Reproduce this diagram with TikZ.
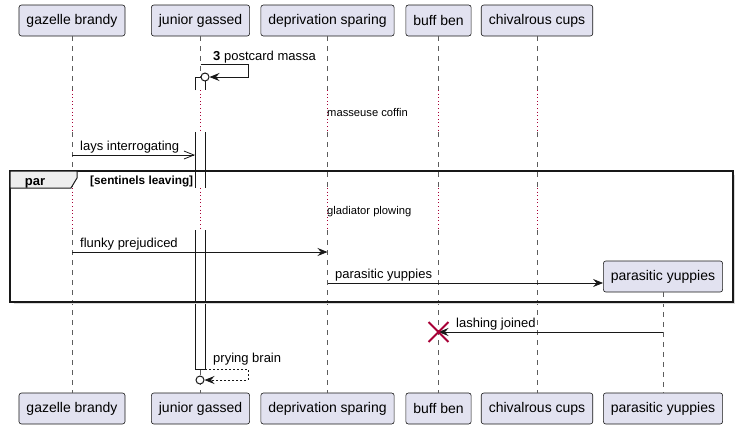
\documentclass[tikz,border=0pt]{standalone}
\usepackage{fontspec}
\setmainfont{Liberation Sans}
\usetikzlibrary{arrows.meta, positioning, calc, shapes.misc}
\definecolor{cBox}{RGB}{226,226,240}
\definecolor{cLine}{RGB}{24,24,24}
\definecolor{cDelay}{RGB}{168,0,54}
\definecolor{cTab}{RGB}{238,238,238}
\tikzset{
	actorbox/.style={rectangle, rounded corners=2.5pt, draw=cLine, fill=cBox, line width=0.6pt, minimum height=31pt, inner xsep=7.5pt, font=\fontsize{14}{16}\selectfont},
	lifeline/.style={cLine!70, line width=0.6pt, dash pattern=on 5pt off 5pt},
	delayline/.style={cDelay, line width=0.9pt, dash pattern=on 1pt off 2.6pt},
	actbar/.style={draw=cLine, fill=white, line width=0.8pt},
	% message arrows
	sig/.style={-{Stealth[length=10pt, width=8pt, inset=3.5pt]}, cLine, line width=0.8pt},
	asig/.style={-{Straight Barb[length=10pt, width=8pt]}, cLine, line width=0.8pt},
	retsig/.style={sig, dash pattern=on 2pt off 2pt},
	endcirc/.style={circle, draw=cLine, fill=white, line width=1pt, minimum size=8pt, inner sep=0pt},
	kill/.style={cross out, draw=cDelay, line width=1.8pt, minimum size=18pt, inner sep=0pt},
	msgtext/.style={anchor=base west, inner sep=0pt, font=\fontsize{13}{15}\selectfont},
	delaytext/.style={anchor=base west, inner sep=0pt, font=\fontsize{11.2}{13}\selectfont},
}
\begin{document}
\begin{tikzpicture}[x=1pt, y=-1pt]
	\useasboundingbox (0,0) rectangle (738,429);
	\node[actorbox] (gb) at (72,20.5)    {gazelle brandy};
	\node[actorbox] (jg) at (200.5,20.5) {junior gassed};
	\node[actorbox] (ds) at (327.5,20.5) {deprivation sparing};
	\node[actorbox] (bb) at (438.5,20.5) {buff ben};
	\node[actorbox] (cc) at (537,20.5)   {chivalrous cups};
	\node[actorbox] (py) at (663,276.5)  {parasitic yuppies};
	\node[actorbox] (gbE) at (72,408.5)    {gazelle brandy};
	\node[actorbox] (jgE) at (200.5,408.5) {junior gassed};
	\node[actorbox] (dsE) at (327.5,408.5) {deprivation sparing};
	\node[actorbox] (bbE) at (438.5,408.5) {buff ben};
	\node[actorbox] (ccE) at (537,408.5)   {chivalrous cups};
	\node[actorbox] (pyE) at (663,408.5)   {parasitic yuppies};
	\coordinate (d1a) at (0,90);
	\coordinate (d1b) at (0,132);
	\coordinate (d2a) at (0,188);
	\coordinate (d2b) at (0,230);
	\draw[lifeline] (gb) -- (gb |- d1a) (gb |- d1b) -- (gb |- d2a) (gb |- d2b) -- (gbE);
	\draw[lifeline] (jg) -- (jg |- d1a) (jg |- d1b) -- (jg |- d2a) (jg |- d2b) -- (jgE);
	\draw[lifeline] (ds) -- (ds |- d1a) (ds |- d1b) -- (ds |- d2a) (ds |- d2b) -- (dsE);
	\draw[lifeline] (bb) -- (bb |- d1a) (bb |- d1b) -- (bb |- d2a) (bb |- d2b) -- (bbE);
	\draw[lifeline] (cc) -- (cc |- d1a) (cc |- d1b) -- (cc |- d2a) (cc |- d2b) -- (ccE);
	\draw[lifeline] (py) -- (pyE);
	\draw[delayline] (gb |- d1a) -- (gb |- d1b) (gb |- d2a) -- (gb |- d2b);
	\draw[delayline] (jg |- d1a) -- (jg |- d1b) (jg |- d2a) -- (jg |- d2b);
	\draw[delayline] (ds |- d1a) -- (ds |- d1b) (ds |- d2a) -- (ds |- d2b);
	\draw[delayline] (bb |- d1a) -- (bb |- d1b) (bb |- d2a) -- (bb |- d2b);
	\draw[delayline] (cc |- d1a) -- (cc |- d1b) (cc |- d2a) -- (cc |- d2b);
	% activation of junior gassed
	\filldraw[actbar] (195,90) -- (195,77) -- (205,77) -- (205,90);
	\fill[white] (195,132) rectangle (205,188);
	\draw[actbar] (195,132) -- (195,188) (205,132) -- (205,188);
	\fill[white] (195,230) rectangle (205,369);
	\draw[actbar] (195,230) -- (195,369) -- (205,369) -- (205,230);
	\coordinate (r1) at (0,64);
	\coordinate (r3) at (0,155);
	\coordinate (r6) at (0,252);
	\coordinate (r7) at (0,283);
	\coordinate (r8) at (0,332);
	\coordinate (r9) at (0,369);
	\node[endcirc] (o1) at (205,77) {};
	\draw[sig] (jg |- r1) -- ++(48,0) |- (o1);
	\draw[asig] (gb |- r3) -- ($(jg |- r3)+(-5.5,0)$);
	\draw[sig] (gb |- r6) -- (ds |- r6);
	\draw[sig] (ds |- r7) -- (py.west |- r7);
	\draw[sig] (py |- r8) -- (bb |- r8);
	\node[kill] (bbX) at (bb |- r8) {};
	\node[endcirc] (o2) at (200,380) {};
	\draw[retsig] ($(jg |- r9)+(4.5,0)$) -- ++(43,0) |- (o2);
	% par frame
	\draw[gray!30, line width=1.5pt] (14,303.5) -- (734.5,303.5) -- (734.5,175);
	\draw[cLine, line width=1.3pt] (10,171) rectangle (733,302);
	\filldraw[fill=cTab, draw=cLine, line width=1pt] (10,171) -- (77,171) -- (77,178) -- (71,188) -- (10,188) -- cycle;
	\node[inner sep=0pt, anchor=base, font=\bfseries\fontsize{13}{15}\selectfont] (partag) at (35,185) {par};
	\node[msgtext, font=\bfseries\fontsize{11.8}{13}\selectfont] (guard) at (90,184) {[sentinels leaving]};
	\node[msgtext] (l1) at (213,60)    {\textbf{3} postcard massa};
	\node[delaytext] (l2) at (327,116) {masseuse coffin};
	\node[msgtext] (l3) at (80,150)    {lays interrogating};
	\node[delaytext] (l5) at (327,214) {gladiator plowing};
	\node[msgtext] (l6) at (80,247)    {flunky prejudiced};
	\node[msgtext] (l7) at (335,278)   {parasitic yuppies};
	\node[msgtext] (l8) at (456,327)   {lashing joined};
	\node[msgtext] (l9) at (213,362)   {prying brain};
\end{tikzpicture}
\end{document}
